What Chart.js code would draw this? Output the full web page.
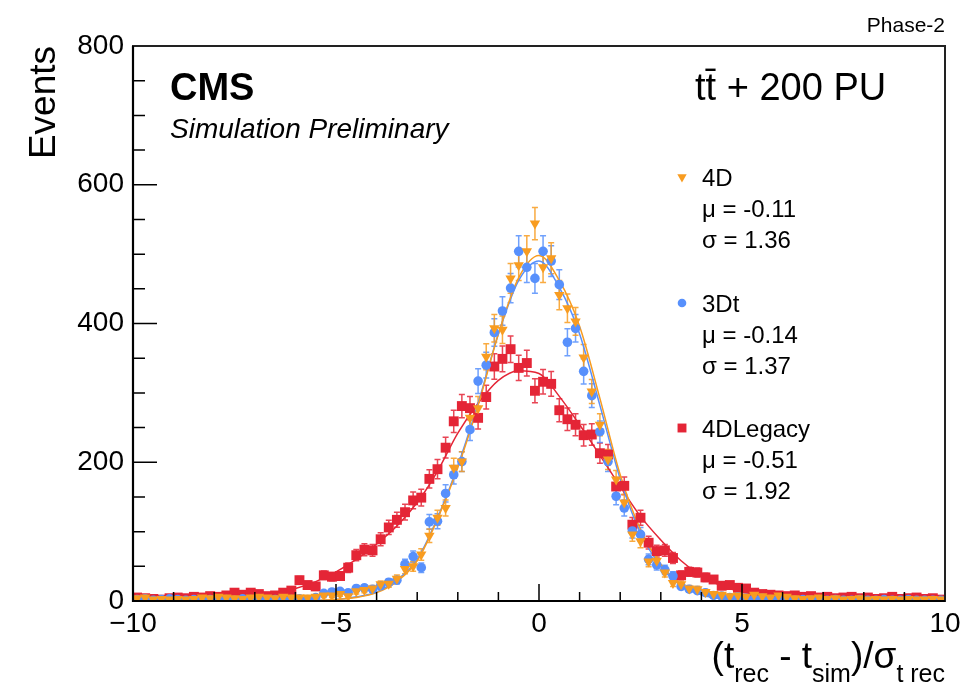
<!DOCTYPE html>
<html>
<head>
<meta charset="utf-8">
<script src="https://cdn.jsdelivr.net/npm/chart.js@4"></script>
<style>
body { margin: 0; background: #fff; }
#wrap { width: 973px; height: 687px; }
</style>
</head>
<body>
<div id="wrap"><canvas id="my_chart" width="973" height="687"></canvas></div>
<script>
// bin centres of the histogram (bin width 0.2)
let bin_centers = [
    -9.9, -9.7, -9.5, -9.3, -9.1, -8.9, -8.7, -8.5, -8.3, -8.1,
    -7.9, -7.7, -7.5, -7.3, -7.1, -6.9, -6.7, -6.5, -6.3, -6.1,
    -5.9, -5.7, -5.5, -5.3, -5.1, -4.9, -4.7, -4.5, -4.3, -4.1,
    -3.9, -3.7, -3.5, -3.3, -3.1, -2.9, -2.7, -2.5, -2.3, -2.1,
    -1.9, -1.7, -1.5, -1.3, -1.1, -0.9, -0.7, -0.5, -0.3, -0.1,
    0.1, 0.3, 0.5, 0.7, 0.9, 1.1, 1.3, 1.5, 1.7, 1.9,
    2.1, 2.3, 2.5, 2.7, 2.9, 3.1, 3.3, 3.5, 3.7, 3.9,
    4.1, 4.3, 4.5, 4.7, 4.9, 5.1, 5.3, 5.5, 5.7, 5.9,
    6.1, 6.3, 6.5, 6.7, 6.9, 7.1, 7.3, 7.5, 7.7, 7.9,
    8.1, 8.3, 8.5, 8.7, 8.9, 9.1, 9.3, 9.5, 9.7, 9.9
]

let events_4d = [
    4, 5, 2, 3, 2, 3, 2, 3, 5, 4,
    6, 5, 4, 3, 5, 6, 5, 4, 6, 5,
    5, 5, 6, 8, 8, 10, 7, 14, 16, 18,
    24, 25, 32, 46, 50, 67, 94, 120, 134, 192,
    201, 264, 278, 352, 393, 391, 465, 484, 504, 544,
    481, 494, 441, 422, 403, 351, 302, 254, 204, 175,
    142, 96, 86, 57, 58, 41, 26, 24, 18, 17,
    13, 10, 9, 7, 8, 6, 9, 7, 5, 8,
    6, 4, 3, 4, 5, 3, 4, 2, 3, 4,
    2, 3, 2, 3, 2, 3, 2, 2, 3, 2
]

let events_3dt = [
    2, 3, 1, 2, 3, 2, 1, 2, 1, 2,
    3, 2, 1, 3, 2, 2, 1, 2, 1, 2,
    3, 2, 5, 11, 13, 14, 12, 18, 19, 17,
    22, 27, 30, 53, 64, 48, 114, 115, 155, 182,
    201, 247, 317, 340, 387, 418, 451, 504, 481, 465,
    504, 490, 456, 373, 393, 331, 296, 244, 201, 151,
    134, 101, 96, 60, 52, 45, 36, 21, 17, 15,
    12, 8, 7, 5, 6, 4, 3, 4, 2, 3,
    2, 1, 2, 1, 2, 1, 2, 1, 1, 2,
    1, 1, 2, 1, 1, 2, 1, 1, 1, 1
]

let events_4dlegacy = [
    5, 4, 3, 2, 4, 5, 4, 6, 5, 7,
    6, 8, 12, 9, 12, 10, 7, 8, 12, 15,
    30, 23, 21, 37, 35, 36, 48, 66, 74, 73,
    89, 106, 117, 128, 145, 149, 176, 190, 221, 259,
    281, 278, 264, 294, 338, 349, 363, 336, 343, 303,
    316, 313, 275, 262, 254, 239, 240, 213, 211, 165,
    166, 110, 120, 84, 72, 73, 62, 37, 42, 41,
    34, 31, 22, 23, 19, 18, 12, 10, 9, 8,
    7, 8, 6, 7, 5, 6, 4, 5, 6, 4,
    5, 3, 4, 6, 3, 4, 5, 3, 4, 2
]

// fitted curves
let fit_x = [-6, -5.5, -5, -4.5, -4, -3.5, -3, -2.5, -2, -1.5, -1, -0.5, 0, 0.5, 1, 1.5, 2, 2.5, 3, 3.5, 4, 4.5, 5, 5.5, 6]
let fit_4d = [0, 1, 2, 5, 12, 28, 58, 118, 192, 282, 385, 466, 498, 462, 396, 292, 182, 103, 53, 24, 10, 4, 1, 0, 0]
let fit_3dt = [0, 1, 2, 6, 13, 30, 60, 120, 195, 285, 385, 462, 490, 452, 385, 282, 176, 98, 50, 22, 9, 3, 1, 0, 0]
let fit_legacy_x = [-8, -7.5, -7, -6.5, -6, -5.5, -5, -4.5, -4, -3.5, -3, -2.5, -2, -1.5, -1, -0.5, 0, 0.5, 1, 1.5, 2, 2.5, 3, 3.5, 4, 4.5, 5, 5.5, 6, 6.5, 7, 7.5, 8]
let fit_4dlegacy = [4, 6, 8, 12, 18, 28, 42, 60, 82, 108, 142, 187, 242, 285, 318, 332, 328, 295, 254, 210, 165, 122, 88, 58, 36, 22, 13, 8, 5, 3, 2, 1, 1]

let x_ticks = [-10, -5, 0, 5, 10]
let y_ticks = [0, 200, 400, 600, 800]

let orange = "#f89c20"
let blue = "#5790fc"
let red = "#e42536"
let font_name = "'Liberation Sans', Arial, Helvetica, sans-serif"

function to_points(xs, ys) {
    let result = []
    for (let i = 0; i < xs.length; i++) {
        result.push({ x: xs[i], y: ys[i] })
    }
    return result
}

let series = [
    { name: "4D", mu: "-0.11", sigma: "1.36", values: events_4d, color: orange, style: "triangle", rotation: 180, radius: 6, legend_y: 179 },
    { name: "3Dt", mu: "-0.14", sigma: "1.37", values: events_3dt, color: blue, style: "circle", rotation: 0, radius: 4.8, legend_y: 305 },
    { name: "4DLegacy", mu: "-0.51", sigma: "1.92", values: events_4dlegacy, color: red, style: "rect", rotation: 0, radius: 7, legend_y: 430 }
]

// error bars (sqrt N), ticks, frame and all the texts
const decor_plugin = {
    id: "decor",
    beforeDatasetsDraw(chart) {
        let ctx = chart.ctx
        let xs = chart.scales.x
        let ys = chart.scales.y
        let area = chart.chartArea
        ctx.save()
        ctx.beginPath()
        ctx.rect(area.left, area.top, area.right - area.left, area.bottom - area.top)
        ctx.clip()
        for (let s = series.length - 1; s >= 0; s--) {
            ctx.strokeStyle = series[s].color
            ctx.globalAlpha = 0.85
            ctx.lineWidth = 1.5
            for (let i = 0; i < bin_centers.length; i++) {
                let v = series[s].values[i]
                if (v <= 0) continue
                let err = Math.sqrt(v)
                let px = xs.getPixelForValue(bin_centers[i])
                let top = ys.getPixelForValue(v + err)
                let bot = ys.getPixelForValue(v - err)
                ctx.beginPath()
                ctx.moveTo(px, top)
                ctx.lineTo(px, bot)
                ctx.moveTo(px - 3, top)
                ctx.lineTo(px + 3, top)
                ctx.moveTo(px - 3, bot)
                ctx.lineTo(px + 3, bot)
                ctx.stroke()
            }
        }
        ctx.restore()
    },
    afterDraw(chart) {
        let ctx = chart.ctx
        let xs = chart.scales.x
        let ys = chart.scales.y
        let area = chart.chartArea
        ctx.save()

        // ticks inside the frame
        ctx.strokeStyle = "#000"
        ctx.lineWidth = 1.5
        ctx.beginPath()
        for (let v = 0; v <= 800; v += 50) {
            let py = ys.getPixelForValue(v)
            let len = (v % 200 == 0) ? 24 : 12
            ctx.moveTo(area.left, py)
            ctx.lineTo(area.left + len, py)
        }
        for (let v = -10; v <= 10; v += 1) {
            let px = xs.getPixelForValue(v)
            let len = (v % 5 == 0) ? 17 : 9
            ctx.moveTo(px, area.bottom)
            ctx.lineTo(px, area.bottom - len)
        }
        ctx.stroke()

        // frame
        ctx.lineWidth = 2
        ctx.strokeStyle = "#222"
        ctx.strokeRect(area.left, area.top, area.right - area.left, area.bottom - area.top)
        ctx.lineWidth = 2.2
        ctx.strokeStyle = "#000"
        ctx.beginPath()
        ctx.moveTo(area.left, area.top)
        ctx.lineTo(area.left, area.bottom)
        ctx.lineTo(area.right, area.bottom)
        ctx.stroke()

        ctx.fillStyle = "#000"
        ctx.textBaseline = "alphabetic"

        // header texts
        ctx.textAlign = "right"
        ctx.font = "21px " + font_name
        ctx.fillText("Phase-2", area.right, 32)

        ctx.textAlign = "left"
        ctx.font = "bold 38px " + font_name
        ctx.fillText("CMS", 170, 100)
        ctx.font = "italic 28px " + font_name
        ctx.fillText("Simulation Preliminary", 170, 138)
        ctx.font = "38px " + font_name
        ctx.fillText("tt\u0304 + 200 PU", 695, 100)

        // legend
        for (let s = 0; s < series.length; s++) {
            let it = series[s]
            ctx.fillStyle = it.color
            Chart.helpers.drawPoint(ctx, { pointStyle: it.style, rotation: it.rotation, radius: it.radius * 0.9, borderWidth: 0 }, 682, it.legend_y - 2)
            ctx.fillStyle = "#000"
            ctx.font = "24px " + font_name
            ctx.textBaseline = "middle"
            ctx.fillText(it.name, 702, it.legend_y)
            ctx.fillText("\u03bc = " + it.mu, 702, it.legend_y + 31)
            ctx.fillText("\u03c3 = " + it.sigma, 702, it.legend_y + 62)
        }

        // y title
        ctx.save()
        ctx.translate(55, area.top)
        ctx.rotate(-Math.PI / 2)
        ctx.textAlign = "right"
        ctx.textBaseline = "alphabetic"
        ctx.font = "37px " + font_name
        ctx.fillText("Events", 0, 0)
        ctx.restore()

        // x title with subscripts
        let big = "37px " + font_name
        let small = "25px " + font_name
        let parts = [
            ["(t", big, 0], ["rec", small, 14], [" - t", big, 0], ["sim", small, 14],
            [")/\u03c3", big, 0], ["t rec", small, 14]
        ]
        let total = 0
        for (let p of parts) {
            ctx.font = p[1]
            total += ctx.measureText(p[0]).width
        }
        let cx = area.right - total
        ctx.textAlign = "left"
        ctx.textBaseline = "alphabetic"
        for (let p of parts) {
            ctx.font = p[1]
            ctx.fillText(p[0], cx, 668 + p[2])
            cx += ctx.measureText(p[0]).width
        }
        ctx.restore()
    }
}

let datasets = []
// data points: first dataset is drawn on top
for (let s = 0; s < series.length; s++) {
    datasets.push({
        label: series[s].name,
        data: to_points(bin_centers, series[s].values),
        showLine: false,
        pointStyle: series[s].style,
        rotation: series[s].rotation,
        pointRadius: series[s].radius,
        pointBorderWidth: 0,
        backgroundColor: series[s].color,
        borderColor: series[s].color
    })
}
let fits = [[fit_x, fit_4d, orange], [fit_x, fit_3dt, blue], [fit_legacy_x, fit_4dlegacy, red]]
for (let f of fits) {
    datasets.push({
        data: to_points(f[0], f[1]),
        showLine: true,
        pointRadius: 0,
        borderColor: f[2],
        borderWidth: 1.5,
        tension: 0.4,
        cubicInterpolationMode: "monotone"
    })
}

let my_chart = document.querySelector("#my_chart")
new Chart(my_chart, {
    type: "scatter",
    data: { datasets: datasets },
    options: {
        responsive: false,
        animation: false,
        devicePixelRatio: 1,
        layout: { padding: { top: 46, right: 28, bottom: 0, left: 0 } },
        plugins: { legend: { display: false }, tooltip: { enabled: false } },
        scales: {
            x: {
                type: "linear", min: -10, max: 10,
                afterBuildTicks: (axis) => { axis.ticks = x_ticks.map(v => ({ value: v })) },
                afterFit: (axis) => { axis.height = 86 },
                ticks: {
                    autoSkip: false, maxRotation: 0, padding: 6, color: "#000",
                    font: { family: font_name, size: 28 },
                    callback: (v) => String(v).replace("-", "\u2212")
                },
                grid: { display: false, drawTicks: false },
                border: { display: false }
            },
            y: {
                type: "linear", min: 0, max: 800,
                afterBuildTicks: (axis) => { axis.ticks = y_ticks.map(v => ({ value: v })) },
                afterFit: (axis) => { axis.width = 133 },
                ticks: { padding: 9, color: "#000", font: { family: font_name, size: 28 } },
                grid: { display: false, drawTicks: false },
                border: { display: false }
            }
        }
    },
    plugins: [decor_plugin]
})
</script>
</body>
</html>
